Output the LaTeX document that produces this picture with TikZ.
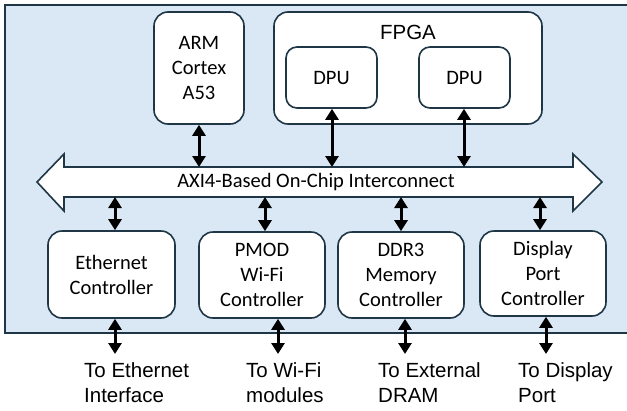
\documentclass[tikz,border=0pt]{standalone}
\usepackage{fontspec}
\setmainfont{Carlito}
\newfontfamily\arial{Liberation Sans}
\usetikzlibrary{arrows.meta}
\definecolor{bgblue}{HTML}{DAE8F5}
\definecolor{edge}{HTML}{1E3646}
\tikzset{
  blk/.style={draw=edge, line width=1.6pt, fill=white, rounded corners=14pt, inner sep=0pt, align=center,
    font=\fontsize{20.5}{25}\selectfont},
  link/.style={line width=3pt, {Triangle[width=13pt,length=11pt]}-{Triangle[width=13pt,length=11pt]}},
  lbl/.style={anchor=base west, inner sep=0pt, align=left, font=\arial\fontsize{20.5}{25}\selectfont},
}
\begin{document}
\begin{tikzpicture}[x=1pt,y=-1pt]
\useasboundingbox (0,0) rectangle (627,410);
\fill[white] (0,0) rectangle (627,410);
% background
\draw[draw=edge, line width=2pt, fill=bgblue] (5,5) rectangle (640,333);
% top blocks
\node[blk, minimum width=90pt, minimum height=112pt] (arm) at (199,68) {ARM\\Cortex\\A53};
\node[blk, minimum width=268pt, minimum height=112pt] (fpga) at (408,68) {};
\node[anchor=base, inner sep=0pt, font=\arial\fontsize{20.5}{24}\selectfont] (fpgat) at (408,39) {FPGA};
\node[blk, rounded corners=11pt, minimum width=91pt, minimum height=61pt] (dpu1) at (331.5,77.5) {DPU};
\node[blk, rounded corners=11pt, minimum width=91pt, minimum height=61pt] (dpu2) at (464.5,77.5) {DPU};
% bus
\draw[draw=edge, line width=1.6pt, fill=white, line join=miter]
  (37,182) -- (64,154) -- (64,167) -- (573,167) -- (573,154) -- (602,182)
  -- (573,211) -- (573,197) -- (64,197) -- (64,211) -- cycle;
\coordinate (bustop) at (319,167);
\coordinate (busbot) at (319,197);
\node[inner sep=0pt, font=\fontsize{20.5}{25}\selectfont] (bus) at (316,182) {AXI4-Based On-Chip Interconnect};
% controllers
\node[blk, minimum width=127pt, minimum height=87pt] (eth) at (111.5,274.5) {Ethernet\\Controller};
\node[blk, minimum width=126pt, minimum height=86pt] (pmod) at (262,275) {PMOD\\Wi-Fi\\Controller};
\node[blk, minimum width=126pt, minimum height=86pt] (ddr) at (401,275) {DDR3\\Memory\\Controller};
\node[blk, minimum width=126pt, minimum height=85pt] (disp) at (543,273.5) {Display\\Port\\Controller};
% links to bus
\draw[link] (arm.south) -- (arm.south |- bustop);
\draw[link] ([xshift=0.5pt]dpu1.south) -- ([xshift=0.5pt]dpu1.south |- bustop);
\draw[link] ([xshift=-0.5pt]dpu2.south) -- ([xshift=-0.5pt]dpu2.south |- bustop);
\draw[link] (busbot -| 115,0) -- (eth.north -| 115,0);
\draw[link] (busbot -| 265,0) -- (pmod.north -| 265,0);
\draw[link] (busbot -| 401,0) -- (ddr.north -| 401,0);
\draw[link] (busbot -| 540,0) -- (disp.north -| 540,0);
% outside links
\coordinate (e1) at (115,354);
\coordinate (e2) at (278,354);
\coordinate (e3) at (405,354);
\coordinate (e4) at (546,354);
\draw[link] (eth.south -| e1) -- (e1);
\draw[link] (pmod.south -| e2) -- (e2);
\draw[link] (ddr.south -| e3) -- (e3);
\draw[link] (disp.south -| e4) -- (e4);
% labels
\node[lbl] (l1) at (84,402) {To Ethernet\\Interface};
\node[lbl] (l2) at (246,402) {To Wi-Fi\\modules};
\node[lbl] (l3) at (378,402) {To External\\DRAM};
\node[lbl] (l4) at (518,402) {To Display\\Port};
\end{tikzpicture}
\end{document}
